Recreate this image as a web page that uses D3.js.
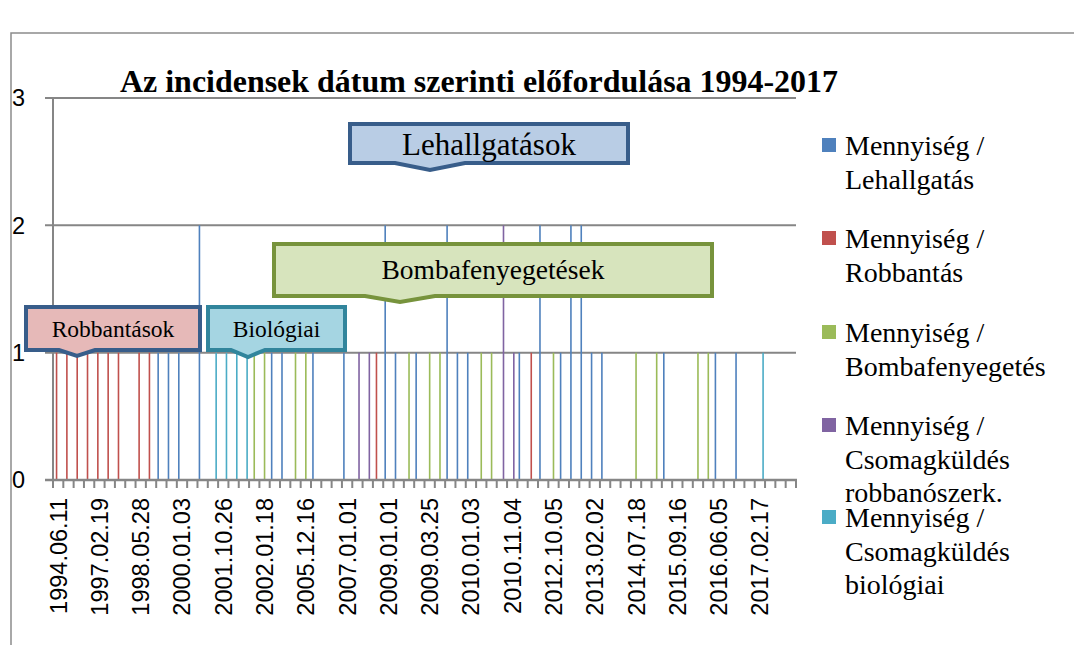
<!DOCTYPE html>
<html><head><meta charset="utf-8">
<script src="https://cdn.jsdelivr.net/npm/d3@7"></script>
<style>html,body{margin:0;padding:0;background:#fff;}svg{display:block;}</style>
</head><body>
<svg id="chart" width="1074" height="645"></svg>
<script>
// ---- data ----
const titleText = "Az incidensek dátum szerinti előfordulása 1994-2017";
const tickLabels = ["1994.06.11","1997.02.19","1998.05.28","2000.01.03","2001.10.26","2002.01.18",
  "2005.12.16","2007.01.01","2009.01.01","2009.03.25","2010.01.03","2010.11.04",
  "2012.10.05","2013.02.02","2014.07.18","2015.09.16","2016.06.05","2017.02.17"];
// 72 categories; only every 4th label is shown (readable) in the chart
const categories = [
 "1994.06.11","","","","1997.02.19","","","","1998.05.28","","","",
 "2000.01.03","","","","2001.10.26","","","","2002.01.18","","","",
 "2005.12.16","","","","2007.01.01","","","","2009.01.01","","","",
 "2009.03.25","","","","2010.01.03","","","","2010.11.04","","","",
 "2012.10.05","","","","2013.02.02","","","","2014.07.18","","","",
 "2015.09.16","","","","2016.06.05","","","","2017.02.17","","",""];
const seriesNames = ["Mennyiség / Lehallgatás","Mennyiség / Robbantás","Mennyiség / Bombafenyegetés",
  "Mennyiség / Csomagküldés robbanószerk.","Mennyiség / Csomagküldés biológiai"];
const legendLines = [["Mennyiség /","Lehallgatás"],["Mennyiség /","Robbantás"],["Mennyiség /","Bombafenyegetés"],
  ["Mennyiség /","Csomagküldés","robbanószerk."],["Mennyiség /","Csomagküldés","biológiai"]];
const lehallgatas = [
 0,0,0,0,0,0,0,0,0,0,1,1,
 1,0,2,0,0,0,0,0,0,1,1,0,
 0,1,0,0,1,0,0,0,2,1,0,1,
 0,0,2,1,1,0,0,0,0,1,0,2,
 0,1,2,2,1,1,0,0,0,0,0,1,
 0,0,0,0,1,0,1,0,0,0,0,0];
const robbantas = [
 1,1,1,1,1,1,1,0,1,1,0,0,
 0,0,0,0,0,0,0,0,0,0,0,0,
 0,0,0,0,0,0,0,1,0,0,0,0,
 0,0,0,0,0,0,0,0,0,0,1,0,
 0,0,0,0,0,0,0,0,0,0,0,0,
 0,0,0,0,0,0,0,0,0,0,0,0];
const bombafenyegetes = [
 0,0,0,0,0,0,0,0,0,0,0,0,
 0,0,0,0,0,0,0,1,1,0,0,1,
 1,0,0,0,0,0,0,0,0,0,1,0,
 1,1,0,0,0,1,1,0,0,0,0,0,
 1,0,0,0,0,0,0,0,1,0,1,0,
 0,0,1,1,0,0,0,0,0,0,0,0];
const csomagRobbano = [
 0,0,0,0,0,0,0,0,0,0,0,0,
 0,0,0,0,0,0,0,0,0,0,0,0,
 0,0,0,0,0,1,1,0,0,0,0,0,
 0,0,0,0,0,0,0,2,1,0,0,0,
 0,0,0,0,0,0,0,0,0,0,0,0,
 0,0,0,0,0,0,0,0,0,0,0,0];
const csomagBiologiai = [
 0,0,0,0,0,0,0,0,0,0,0,0,
 0,0,0,1,1,1,1,0,0,0,0,0,
 0,0,0,0,0,0,0,0,0,0,0,0,
 0,0,0,0,0,0,0,0,0,0,0,0,
 0,0,0,0,0,0,0,0,0,0,0,0,
 0,0,0,0,0,0,0,0,1,0,0,0];
const yTicks = [0,1,2,3];
const calloutTexts = ["Lehallgatások","Bombafenyegetések","Robbantások","Biológiai"];

// ---- styles / layout ----
const colors = ["#4F81BD","#C0504D","#9BBB59","#8064A2","#4BACC6"];
const seriesValues = [lehallgatas, robbantas, bombafenyegetes, csomagRobbano, csomagBiologiai];
const svg = d3.select("#chart");
const M = {left:53, right:796, top:98, bottom:480};
const axisColor = "#868686";

// frame
svg.append("path").attr("d","M11,645 L11,33 L1074,33").attr("fill","none").attr("stroke","#8c8c8c").attr("stroke-width",1.5);

const x0 = d3.scaleBand().domain(d3.range(categories.length)).range([M.left, M.right]).paddingInner(0.225).paddingOuter(0.1125);
const x1 = d3.scaleBand().domain(d3.range(seriesNames.length)).range([0, x0.bandwidth()]);
const y = d3.scaleLinear().domain([0,3]).range([M.bottom, M.top]);

// gridlines
svg.append("g").selectAll("line").data(yTicks.filter(d=>d>0)).join("line")
  .attr("x1", M.left-8).attr("x2", M.right).attr("y1", d=>y(d)).attr("y2", d=>y(d))
  .attr("stroke", axisColor).attr("stroke-width", 2);

// y labels
svg.append("g").selectAll("text").data(yTicks).join("text")
  .attr("x", 12).attr("y", d=>y(d)).attr("dy","0.36em")
  .attr("font-family","Liberation Sans, Arial, sans-serif").attr("font-size",23.5).attr("fill","#000")
  .text(d=>d);

// bars
const bars = [];
seriesValues.forEach((arr, s) => arr.forEach((v, c) => { if (v > 0) bars.push({s, c, v}); }));
svg.append("g").selectAll("rect").data(bars).join("rect")
  .attr("x", d=>x0(d.c)+x1(d.s)).attr("width", x1.bandwidth())
  .attr("y", d=>y(d.v)).attr("height", d=>y(0)-y(d.v))
  .attr("fill", d=>colors[d.s]);

// y axis line
svg.append("line").attr("x1",M.left).attr("x2",M.left).attr("y1",M.top).attr("y2",M.bottom)
  .attr("stroke",axisColor).attr("stroke-width",2);

// x axis
const step = x0.step();
const xAxisG = svg.append("g");
xAxisG.append("line").attr("x1",M.left-8).attr("x2",M.right+1).attr("y1",M.bottom).attr("y2",M.bottom)
  .attr("stroke",axisColor).attr("stroke-width",2.5);
xAxisG.selectAll("line.tick").data(d3.range(categories.length+1)).join("line").attr("class","tick")
  .attr("x1", i=>M.left + i*step).attr("x2", i=>M.left + i*step)
  .attr("y1", M.bottom).attr("y2", M.bottom+8)
  .attr("stroke",axisColor).attr("stroke-width",2);
const labeled = categories.map((c,i)=>({c,i})).filter(d=>d.c!=="");
xAxisG.selectAll("text").data(labeled).join("text")
  .attr("transform", d=>`translate(${M.left + (d.i+0.5)*step},498) rotate(-90)`)
  .attr("text-anchor","end").attr("dy","0.36em")
  .attr("font-family","Liberation Sans, Arial, sans-serif").attr("font-size",23.5).attr("fill","#000")
  .text(d=>d.c);

// title
svg.append("text").attr("x",120).attr("y",92).attr("textLength",718).attr("lengthAdjust","spacingAndGlyphs")
  .attr("font-family","Liberation Serif, Times New Roman, serif").attr("font-weight","bold").attr("font-size",31)
  .text(titleText);

// callouts
const callouts = [
  {t:calloutTexts[0], x:350, y:124, w:278, h:39, tip:[430,170], hw:35, fill:"#B9CDE5", stroke:"#385D8A", fs:31, ty:155},
  {t:calloutTexts[1], x:274, y:244, w:438, h:52, tip:[400,302], hw:35, fill:"#D7E4BD", stroke:"#77933C", fs:27.5, ty:279},
  {t:calloutTexts[2], x:26,  y:307, w:174, h:43, tip:[77,356], hw:18, fill:"#E6B9B8", stroke:"#385D8A", fs:23.5, ty:337},
  {t:calloutTexts[3], x:208, y:307, w:137, h:43, tip:[248,357], hw:17, fill:"#A5D5E2", stroke:"#31859C", fs:23.5, ty:337}
];
const cg = svg.append("g");
callouts.forEach(c => {
  const b = c.y + c.h;
  const d = `M${c.x},${c.y} L${c.x+c.w},${c.y} L${c.x+c.w},${b} L${c.tip[0]+c.hw},${b} L${c.tip[0]},${c.tip[1]} L${c.tip[0]-c.hw},${b} L${c.x},${b} Z`;
  cg.append("path").attr("d",d).attr("fill",c.fill).attr("stroke",c.stroke).attr("stroke-width",4).attr("stroke-linejoin","miter");
  cg.append("text").attr("x",c.x+c.w/2).attr("y",c.ty).attr("text-anchor","middle")
    .attr("font-family","Liberation Serif, Times New Roman, serif").attr("font-size",c.fs).attr("fill","#000").text(c.t);
});

// legend
const legendBase = [155,248,342,435,527];
const lg = svg.append("g");
legendLines.forEach((lines,i) => {
  lg.append("rect").attr("x",822).attr("y",legendBase[i]-17).attr("width",14).attr("height",14).attr("fill",colors[i]);
  const t = lg.append("text").attr("x",845).attr("y",legendBase[i])
    .attr("font-family","Liberation Serif, Times New Roman, serif").attr("font-size",28).attr("fill","#000");
  lines.forEach((l,j) => t.append("tspan").attr("x",845).attr("y",legendBase[i]+j*33.5).text(l));
});
</script>
</body></html>
